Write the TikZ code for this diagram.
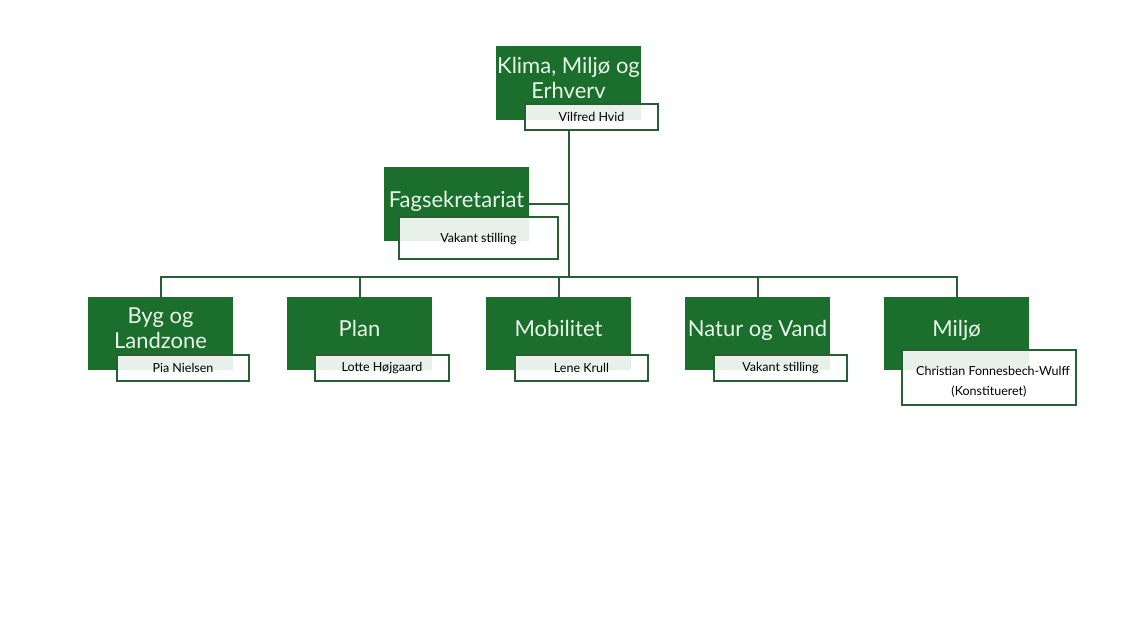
\documentclass[tikz,border=0pt]{standalone}
\usepackage{fontspec}
\setmainfont{Lato}
\usetikzlibrary{positioning}
\definecolor{unitgreen}{RGB}{27,110,43}
\definecolor{linegreen}{RGB}{40,94,52}
\definecolor{unittext}{RGB}{232,245,234}

\tikzset{
  unit/.style={fill=unitgreen, text=unittext, minimum width=145pt, minimum height=74pt,
    inner sep=0pt, align=center, font=\fontsize{22}{25}\selectfont, text depth=10pt},
  person/.style={draw=linegreen, line width=1.6pt, fill=white, fill opacity=0.9, text opacity=1,
    text=black, inner sep=0pt, minimum height=26pt, align=center, font=\fontsize{12.5}{20}\selectfont},
  link/.style={draw=linegreen, line width=2pt}
}

\begin{document}
\begin{tikzpicture}[x=1pt,y=-1pt]
\fill[white] (0,0) rectangle (1138,630);
\useasboundingbox (0,0) rectangle (1138,630);
%% top
\node[unit] (klima) at (568.5,83) {Klima, Miljø og\\Erhverv};
\node[person, minimum width=133pt] (klimaname) at (591.5,117) {Vilfred Hvid};
\node[unit] (fag) at (456.5,204) {Fagsekretariat};
\node[person, minimum width=159pt, minimum height=42pt, text depth=0pt] (fagname) at (478.5,238) {Vakant stilling};
%% departments
\node[unit, minimum height=73pt] (byg) at (160.5,333.5) {Byg og\\Landzone};
\node[unit, minimum height=73pt] (plan) at (359.5,333.5) {Plan};
\node[unit, minimum height=73pt] (mob) at (558.5,333.5) {Mobilitet};
\node[unit, minimum height=73pt] (natur) at (757.5,333.5) {Natur og Vand};
\node[unit, minimum height=73pt] (milj) at (956.5,333.5) {Miljø};
\node[person, minimum width=132pt] (bygname) at (183,368) {Pia Nielsen};
\node[person, minimum width=134pt] (planname) at (382,368) {Lotte Højgaard};
\node[person, minimum width=133pt] (mobname) at (581.5,368) {Lene Krull};
\node[person, minimum width=133pt] (naturname) at (780.5,368) {Vakant stilling};
\node[person, minimum width=174pt, minimum height=55pt, text height=39pt, text depth=3pt]
  (miljname) at (989,377.5) {\hspace*{8pt}Christian Fonnesbech-Wulff\\(Konstitueret)};
%% lines
\coordinate (bus) at (568.5,277);
\draw[link] (klimaname.south -| klima) -- (bus);
\draw[link] (fag.east) -- (fag.east -| klima);
\draw[link] (byg.north) -- (byg.north |- bus) -- (milj.north |- bus) -- (milj.north);
\foreach \u in {plan,mob,natur}
  \draw[link] (\u.north) -- (\u.north |- bus);
\end{tikzpicture}
\end{document}
